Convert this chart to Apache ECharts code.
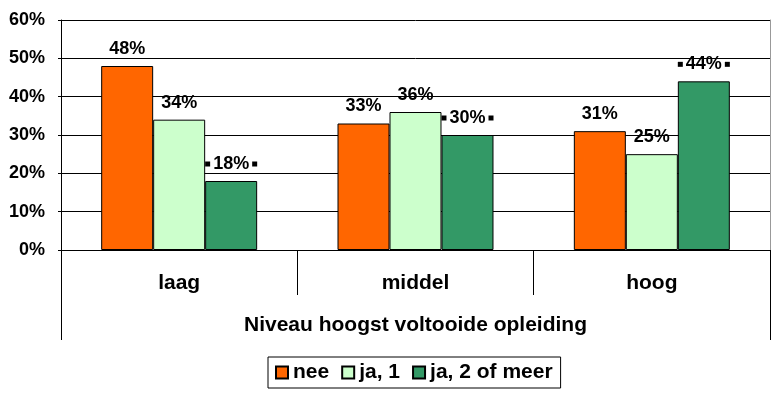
<!DOCTYPE html>
<html>
<head>
<meta charset="utf-8">
<script src="https://cdn.jsdelivr.net/npm/echarts@6/dist/echarts.min.js"></script>
<style>
html,body{margin:0;padding:0;background:#fff;}
#c{width:778px;height:394px;}
</style>
</head>
<body>
<div id="c"></div>
<script>
const categories = ['laag', 'middel', 'hoog'];
const seriesNames = ['nee', 'ja, 1', 'ja, 2 of meer'];
const neeValues = [48, 33, 31];
const ja1Values = [34, 36, 25];
const ja2Values = [18, 30, 44];
const yTicks = [0, 10, 20, 30, 40, 50, 60];
const axisTitle = 'Niveau hoogst voltooide opleiding';
</script>
<script>
const FONT = '"Liberation Sans", Arial, sans-serif';
const NUM = 18, TXT = 21;
const colors = ['#FF6600', '#CCFFCC', '#339966'];
const chart = echarts.init(document.getElementById('c'), null, {renderer: 'canvas'});

function plainLabel() {
  return {
    show: true, position: 'top', distance: 8,
    color: '#000', fontFamily: FONT, fontWeight: 'bold', fontSize: NUM,
    formatter: p => p.value + '%'
  };
}
function keyLabel() {
  return {
    show: true, position: 'top', distance: 8,
    formatter: p => '{sq|}{v|' + p.value + '%}{sq|}',
    rich: {
      v: {color: '#000', fontFamily: FONT, fontWeight: 'bold', fontSize: NUM, padding: [0, 3, 0, 3]},
      sq: {backgroundColor: '#000', width: 5, height: 5}
    }
  };
}

const dataSets = [neeValues, ja1Values, ja2Values];
const series = dataSets.map((d, i) => ({
  name: seriesNames[i],
  type: 'bar',
  xAxisIndex: 0,
  yAxisIndex: 0,
  data: d,
  barGap: '0%',
  barCategoryGap: '34%',
  itemStyle: {color: colors[i], borderColor: '#000', borderWidth: 1},
  label: i === 2 ? keyLabel() : plainLabel(),
  emphasis: {disabled: true}
}));

chart.setOption({
  backgroundColor: '#fff',
  animation: false,
  grid: {left: 61, right: 8, top: 20, bottom: 144, containLabel: false},
  legend: {
    data: seriesNames,
    left: 268, top: 357,
    padding: [5, 8, 5, 7],
    itemGap: 12, itemWidth: 12, itemHeight: 12,
    icon: 'rect',
    borderColor: '#000', borderWidth: 1,
    textStyle: {color: '#000', fontFamily: FONT, fontWeight: 'bold', fontSize: TXT}
  },
  xAxis: [
    {
      type: 'category', data: categories, position: 'bottom',
      axisLine: {lineStyle: {color: '#000', width: 1}},
      axisTick: {show: true, length: 45, lineStyle: {color: '#000'}},
      axisLabel: {margin: 23, color: '#000', fontFamily: FONT, fontWeight: 'bold', fontSize: TXT}
    },
    {
      type: 'category', data: [axisTitle], position: 'bottom',
      axisLine: {show: true, onZero: false, lineStyle: {color: '#000', width: 1}},
      axisTick: {show: true, length: 90, lineStyle: {color: '#000'}},
      axisLabel: {margin: 65, color: '#000', fontFamily: FONT, fontWeight: 'bold', fontSize: TXT}
    }
  ],
  yAxis: [
    {
      type: 'value', min: 0, max: 60, interval: 10,
      axisLine: {show: true, lineStyle: {color: '#000'}},
      axisTick: {show: true, length: 3, lineStyle: {color: '#000'}},
      splitLine: {show: true, lineStyle: {color: '#000', width: 1}},
      axisLabel: {margin: 16, color: '#000', fontFamily: FONT, fontWeight: 'bold', fontSize: NUM,
        formatter: v => yTicks.includes(v) ? v + '%' : ''}
    },
    {
      type: 'value', min: 0, max: 60, interval: 10, position: 'right',
      axisLine: {show: true, lineStyle: {color: '#999'}},
      axisTick: {show: false}, axisLabel: {show: false}, splitLine: {show: false}
    }
  ],
  series: series
});
</script>
</body>
</html>
